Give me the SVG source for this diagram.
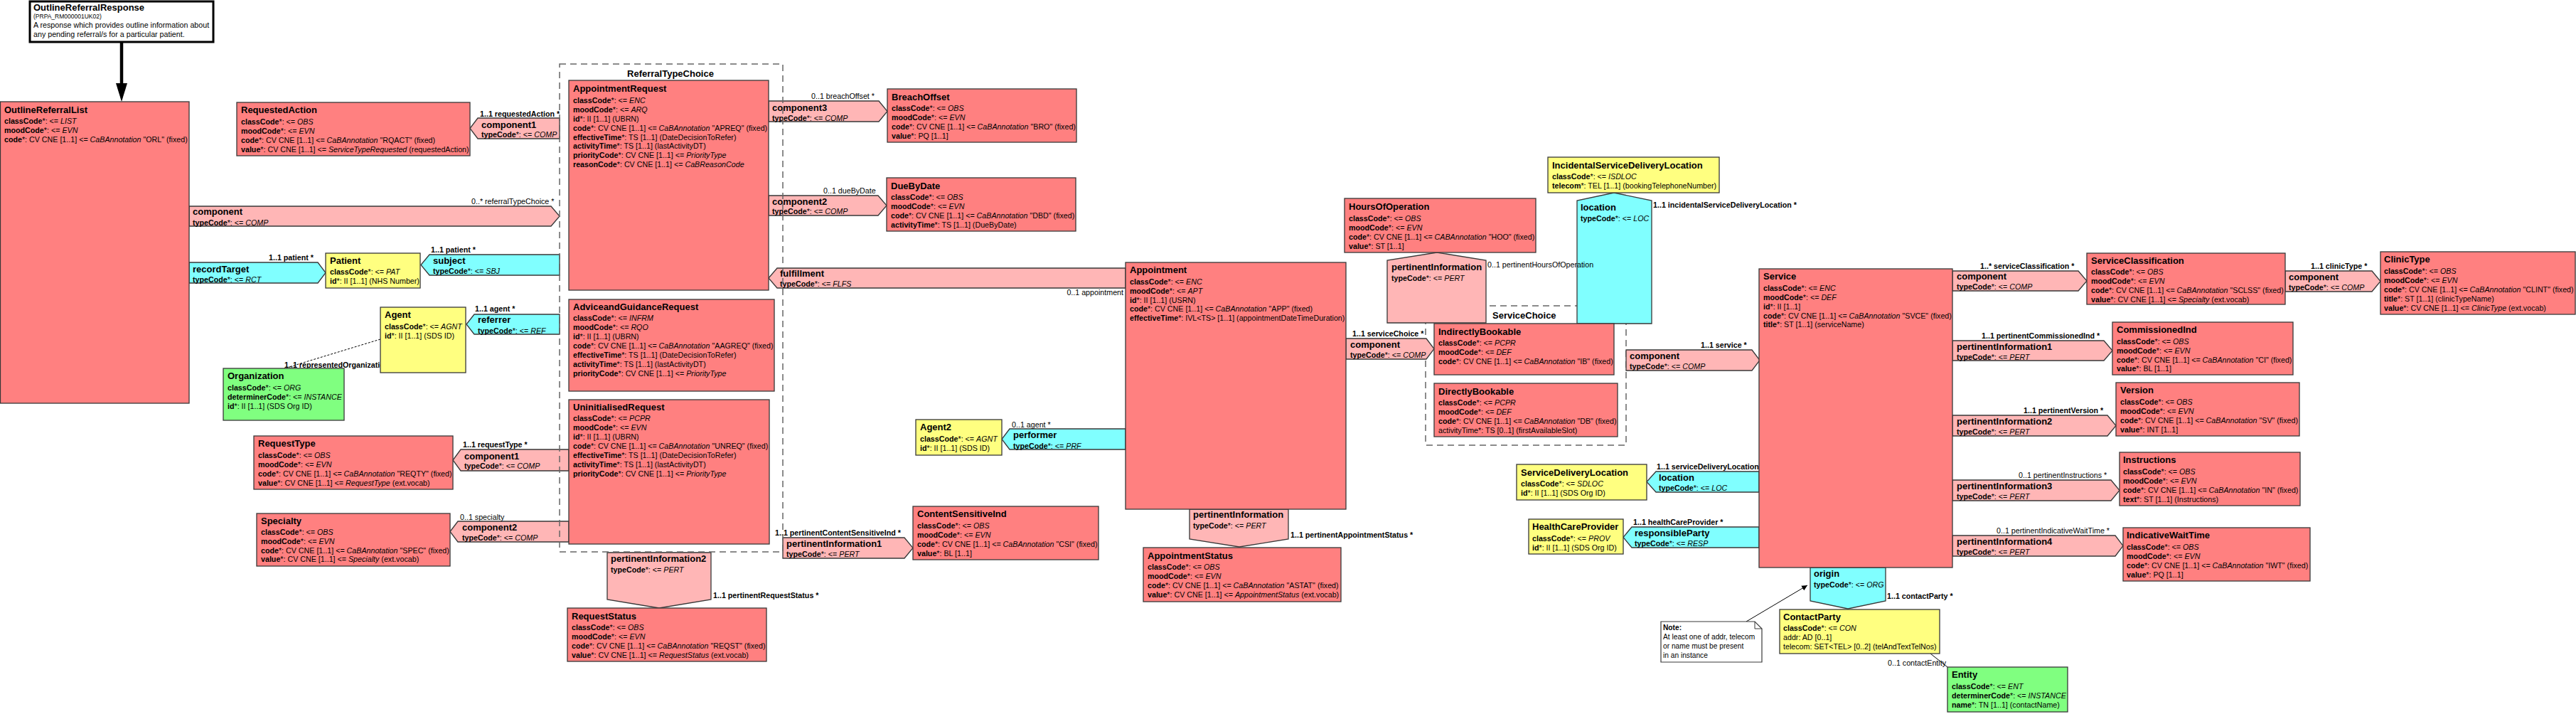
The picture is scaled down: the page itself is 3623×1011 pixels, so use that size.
<svg xmlns="http://www.w3.org/2000/svg" width="3623" height="1011" viewBox="0 0 3623 1011">
<defs>
<style>
text{font-family:"Liberation Sans",Arial,sans-serif;fill:#000}
.t{font-size:13px;font-weight:bold}
.a{font-size:10.7px}
.b{font-weight:bold}
.i{font-style:italic}
.box{stroke:#383838;stroke-width:1.3}
.act{fill:#ff8080}
.role{fill:#ffff80}
.ent{fill:#80ff80}
.ar{fill:#ffb6b6;stroke:#383838;stroke-width:1.3}
.pr{fill:#80ffff;stroke:#383838;stroke-width:1.3}
.ch{fill:none;stroke:#666;stroke-width:1.5;stroke-dasharray:9,6}
.n{font-size:10.2px}
</style>
<marker id="ah" viewBox="0 0 10 10" refX="10" refY="5" markerWidth="8" markerHeight="8" orient="auto"><path d="M0,0 L10,5 L0,10 z" fill="#000"/></marker>
</defs>
<rect width="3623" height="1011" fill="#fff"/>

<g id="ServiceChoice">
<rect class="ch" x="2005" y="430" width="282" height="196"/>
<text class="t" x="2099" y="447.5">ServiceChoice</text>
</g>

<g id="connectors">
<line x1="171" y1="60" x2="171" y2="120" stroke="#000" stroke-width="4.5"/>
<polygon points="163,117 179,117 171,143" fill="#000"/>
<polygon class="ar" points="266,290 775,290 787,304 775,318 266,318"/>
<text class="t" x="271" y="302">component</text>
<text class="a" x="271" y="316.5"><tspan class="b">typeCode</tspan>*: &lt;= <tspan class="i">COMP</tspan></text>
<text class="a" x="663" y="287">0..* referralTypeChoice  *</text>
<polygon class="ar" points="661,180.5 672,166 787,166 787,195 672,195"/>
<text class="t" x="677" y="179.5">component1</text>
<text class="a" x="677" y="193"><tspan class="b">typeCode</tspan>*: &lt;= <tspan class="i">COMP</tspan></text>
<text class="a b" x="675" y="164">1..1 requestedAction  *</text>
<polygon class="pr" points="266,369 447,369 458,383.5 447,398 266,398"/>
<text class="t" x="271" y="382.5">recordTarget</text>
<text class="a" x="271" y="396.5"><tspan class="b">typeCode</tspan>*: &lt;= <tspan class="i">RCT</tspan></text>
<text class="a b" x="378" y="366">1..1 patient  *</text>
<polygon class="pr" points="592,372.5 604,358 787,358 787,387 604,387"/>
<text class="t" x="609" y="370.5">subject</text>
<text class="a" x="609" y="385"><tspan class="b">typeCode</tspan>*: &lt;= <tspan class="i">SBJ</tspan></text>
<text class="a b" x="606" y="355">1..1 patient  *</text>
<polygon class="pr" points="656,456 667,442 787,442 787,470 667,470"/>
<text class="t" x="672" y="454">referrer</text>
<text class="a" x="672" y="468.5"><tspan class="b">typeCode</tspan>*: &lt;= <tspan class="i">REF</tspan></text>
<text class="a b" x="668" y="438">1..1 agent  *</text>
<line x1="535" y1="477" x2="400" y2="518" stroke="#000" stroke-width="1" stroke-dasharray="3,2"/>
<text class="a b" x="400" y="517">1..1 representedOrganization</text>
<polygon class="ar" points="637,647 648,632 800,632 800,662 648,662"/>
<text class="t" x="653" y="645.5">component1</text>
<text class="a" x="653" y="659"><tspan class="b">typeCode</tspan>*: &lt;= <tspan class="i">COMP</tspan></text>
<text class="a b" x="651" y="629">1..1 requestType  *</text>
<polygon class="ar" points="633,747.5 644,733 800,733 800,762 644,762"/>
<text class="t" x="650" y="746">component2</text>
<text class="a" x="650" y="760"><tspan class="b">typeCode</tspan>*: &lt;= <tspan class="i">COMP</tspan></text>
<text class="a" x="647" y="731">0..1 specialty</text>
<polygon class="ar" points="1081,142 1236,142 1248,156.5 1236,171 1081,171"/>
<text class="t" x="1086" y="155.5">component3</text>
<text class="a" x="1086" y="169.5"><tspan class="b">typeCode</tspan>*: &lt;= <tspan class="i">COMP</tspan></text>
<text class="a" x="1141" y="139">0..1 breachOffset  *</text>
<polygon class="ar" points="1081,275 1235,275 1247,289 1235,303 1081,303"/>
<text class="t" x="1086" y="287.5">component2</text>
<text class="a" x="1086" y="301"><tspan class="b">typeCode</tspan>*: &lt;= <tspan class="i">COMP</tspan></text>
<text class="a" x="1158" y="271.5">0..1 dueByDate</text>
<polygon class="ar" points="1081,391 1093,377 1583,377 1583,405 1093,405"/>
<text class="t" x="1097" y="388.5">fulfillment</text>
<text class="a" x="1097" y="403"><tspan class="b">typeCode</tspan>*: &lt;= <tspan class="i">FLFS</tspan></text>
<text class="a" x="1580" y="415" text-anchor="end">0..1 appointment</text>
<polygon class="ar" points="854,777 1000,777 1000,843 927,855 854,843"/>
<text class="t" x="859" y="789.5">pertinentInformation2</text>
<text class="a" x="859" y="805"><tspan class="b">typeCode</tspan>*: &lt;= <tspan class="i">PERT</tspan></text>
<text class="a b" x="1003" y="841">1..1 pertinentRequestStatus  *</text>
<polygon class="ar" points="1101,756 1272,756 1284,770.5 1272,785 1101,785"/>
<text class="t" x="1106" y="768.5">pertinentInformation1</text>
<text class="a" x="1106" y="783"><tspan class="b">typeCode</tspan>*: &lt;= <tspan class="i">PERT</tspan></text>
<text class="a b" x="1090" y="753">1..1 pertinentContentSensitiveInd  *</text>
<polygon class="pr" points="1409,617.5 1420,603 1583,603 1583,632 1420,632"/>
<text class="t" x="1425" y="616">performer</text>
<text class="a" x="1425" y="630.5"><tspan class="b">typeCode</tspan>*: &lt;= <tspan class="i">PRF</tspan></text>
<text class="a" x="1423" y="600.5">0..1 agent  *</text>
<polygon class="ar" points="1673,716 1812,716 1812,758 1743,769 1673,758"/>
<text class="t" x="1678" y="728">pertinentInformation</text>
<text class="a" x="1678" y="743"><tspan class="b">typeCode</tspan>*: &lt;= <tspan class="i">PERT</tspan></text>
<text class="a b" x="1815" y="756">1..1 pertinentAppointmentStatus  *</text>
<polygon class="ar" points="1893,476 2006,476 2017,490.5 2006,505 1893,505"/>
<text class="t" x="1899" y="489">component</text>
<text class="a" x="1899" y="503"><tspan class="b">typeCode</tspan>*: &lt;= <tspan class="i">COMP</tspan></text>
<text class="a b" x="1902" y="472.5">1..1 serviceChoice  *</text>
<polygon class="ar" points="2021,355 2090,366 2090,454 1951,454 1951,366"/>
<text class="t" x="1957" y="379.5">pertinentInformation</text>
<text class="a" x="1957" y="395"><tspan class="b">typeCode</tspan>*: &lt;= <tspan class="i">PERT</tspan></text>
<polygon class="pr" points="2270,271 2323,282 2323,455 2218,455 2218,282"/>
<text class="t" x="2223" y="295.5">location</text>
<text class="a" x="2223" y="311"><tspan class="b">typeCode</tspan>*: &lt;= <tspan class="i">LOC</tspan></text>
<text class="a b" x="2325" y="292">1..1 incidentalServiceDeliveryLocation  *</text>
<text class="a" x="2092" y="376">0..1 pertinentHoursOfOperation</text>
<polygon class="ar" points="2287,492 2464,492 2475,506.5 2464,521 2287,521"/>
<text class="t" x="2292" y="504.5">component</text>
<text class="a" x="2292" y="519"><tspan class="b">typeCode</tspan>*: &lt;= <tspan class="i">COMP</tspan></text>
<text class="a b" x="2392" y="489">1..1 service  *</text>
<polygon class="pr" points="2316,677.5 2329,663 2474,663 2474,692 2329,692"/>
<text class="t" x="2333" y="675.5">location</text>
<text class="a" x="2333" y="690"><tspan class="b">typeCode</tspan>*: &lt;= <tspan class="i">LOC</tspan></text>
<text class="a b" x="2330" y="660">1..1 serviceDeliveryLocation</text>
<polygon class="pr" points="2283,755.5 2295,741 2474,741 2474,770 2295,770"/>
<text class="t" x="2299" y="753.5">responsibleParty</text>
<text class="a" x="2299" y="768"><tspan class="b">typeCode</tspan>*: &lt;= <tspan class="i">RESP</tspan></text>
<text class="a b" x="2297" y="738">1..1 healthCareProvider  *</text>
<polygon class="pr" points="2546,798 2652,798 2652,845 2599,856 2546,845"/>
<text class="t" x="2551" y="810.5">origin</text>
<text class="a" x="2551" y="826"><tspan class="b">typeCode</tspan>*: &lt;= <tspan class="i">ORG</tspan></text>
<text class="a b" x="2654" y="842">1..1 contactParty  *</text>
<text class="a" x="2655" y="936">0..1 contactEntity</text>
<line x1="2715" y1="919" x2="2739" y2="938" stroke="#000" stroke-width="1"/>
<line x1="2456" y1="874" x2="2542" y2="823" stroke="#000" stroke-width="1" marker-end="url(#ah)"/>
<polygon class="ar" points="2746,381 2923,381 2935,395 2923,409 2746,409"/>
<text class="t" x="2752" y="392.5">component</text>
<text class="a" x="2752" y="407"><tspan class="b">typeCode</tspan>*: &lt;= <tspan class="i">COMP</tspan></text>
<text class="a b" x="2785" y="378">1..* serviceClassification  *</text>
<polygon class="ar" points="3214,381 3336,381 3348,395.5 3336,410 3214,410"/>
<text class="t" x="3219" y="393.5">component</text>
<text class="a" x="3219" y="407.5"><tspan class="b">typeCode</tspan>*: &lt;= <tspan class="i">COMP</tspan></text>
<text class="a b" x="3250" y="378">1..1 clinicType  *</text>
<polygon class="ar" points="2746,479 2959,479 2971,493 2959,507 2746,507"/>
<text class="t" x="2752" y="491.5">pertinentInformation1</text>
<text class="a" x="2752" y="505.5"><tspan class="b">typeCode</tspan>*: &lt;= <tspan class="i">PERT</tspan></text>
<text class="a b" x="2787" y="476">1..1 pertinentCommissionedInd  *</text>
<polygon class="ar" points="2746,584 2964,584 2976,598.5 2964,613 2746,613"/>
<text class="t" x="2752" y="596.5">pertinentInformation2</text>
<text class="a" x="2752" y="611"><tspan class="b">typeCode</tspan>*: &lt;= <tspan class="i">PERT</tspan></text>
<text class="a b" x="2846" y="581">1..1 pertinentVersion  *</text>
<polygon class="ar" points="2746,675 2969,675 2981,689.5 2969,704 2746,704"/>
<text class="t" x="2752" y="687.5">pertinentInformation3</text>
<text class="a" x="2752" y="702"><tspan class="b">typeCode</tspan>*: &lt;= <tspan class="i">PERT</tspan></text>
<text class="a" x="2839" y="672">0..1 pertinentInstructions  *</text>
<polygon class="ar" points="2746,753 2975,753 2986,767.5 2975,782 2746,782"/>
<text class="t" x="2752" y="765.5">pertinentInformation4</text>
<text class="a" x="2752" y="780"><tspan class="b">typeCode</tspan>*: &lt;= <tspan class="i">PERT</tspan></text>
<text class="a" x="2808" y="750">0..1 pertinentIndicativeWaitTime  *</text>
</g>

<g id="ReferralTypeChoice">
<rect class="ch" x="787" y="90" width="314" height="686"/>
<text class="t" x="943" y="108" text-anchor="middle">ReferralTypeChoice</text>
</g>

<g id="OutlineReferralResponse">
<rect x="42" y="2" width="258" height="57" fill="#fff" stroke="#000" stroke-width="3"/>
<text class="t" x="47" y="14.5">OutlineReferralResponse</text>
<text x="47" y="25.5" font-family="'Liberation Mono',monospace" font-size="8.5" fill="#666">(PRPA_RM000001UK02)</text>
<text class="a" x="47" y="39">A response which provides outline information about</text>
<text class="a" x="47" y="52">any pending referral/s for a particular patient.</text>
</g>

<g id="OutlineReferralList">
<rect class="box act" x="0.5" y="143" width="265.5" height="424"/>
<text class="t" x="6" y="158.5">OutlineReferralList</text>
<text class="a" x="6" y="174"><tspan class="b">classCode</tspan>*: &lt;= <tspan class="i">LIST</tspan></text>
<text class="a" x="6" y="187"><tspan class="b">moodCode</tspan>*: &lt;= <tspan class="i">EVN</tspan></text>
<text class="a" x="6" y="200"><tspan class="b">code</tspan>*: CV CNE [1..1] &lt;= <tspan class="i">CaBAnnotation</tspan> "ORL" (fixed)</text>
</g>

<g id="RequestedAction">
<rect class="box act" x="333" y="144" width="328" height="75"/>
<text class="t" x="339" y="159">RequestedAction</text>
<text class="a" x="339" y="175"><tspan class="b">classCode</tspan>*: &lt;= <tspan class="i">OBS</tspan></text>
<text class="a" x="339" y="188"><tspan class="b">moodCode</tspan>*: &lt;= <tspan class="i">EVN</tspan></text>
<text class="a" x="339" y="201"><tspan class="b">code</tspan>*: CV CNE [1..1] &lt;= <tspan class="i">CaBAnnotation</tspan> "RQACT" (fixed)</text>
<text class="a" x="339" y="214"><tspan class="b">value</tspan>*: CV CNE [1..1] &lt;= <tspan class="i">ServiceTypeRequested</tspan> (requestedAction)</text>
</g>

<g id="Patient">
<rect class="box role" x="458" y="356" width="133" height="49"/>
<text class="t" x="464" y="371">Patient</text>
<text class="a" x="464" y="386"><tspan class="b">classCode</tspan>*: &lt;= <tspan class="i">PAT</tspan></text>
<text class="a" x="464" y="399"><tspan class="b">id</tspan>*: II [1..1] (NHS Number)</text>
</g>

<g id="Agent">
<rect class="box role" x="535" y="432" width="120" height="92"/>
<text class="t" x="541" y="447">Agent</text>
<text class="a" x="541" y="463"><tspan class="b">classCode</tspan>*: &lt;= <tspan class="i">AGNT</tspan></text>
<text class="a" x="541" y="476"><tspan class="b">id</tspan>*: II [1..1] (SDS ID)</text>
</g>

<g id="Organization">
<rect class="box ent" x="314" y="518" width="170" height="73"/>
<text class="t" x="320" y="533">Organization</text>
<text class="a" x="320" y="549"><tspan class="b">classCode</tspan>*: &lt;= <tspan class="i">ORG</tspan></text>
<text class="a" x="320" y="562"><tspan class="b">determinerCode</tspan>*: &lt;= <tspan class="i">INSTANCE</tspan></text>
<text class="a" x="320" y="575"><tspan class="b">id</tspan>*: II [1..1] (SDS Org ID)</text>
</g>

<g id="RequestType">
<rect class="box act" x="357" y="613" width="280" height="75"/>
<text class="t" x="363" y="628">RequestType</text>
<text class="a" x="363" y="644"><tspan class="b">classCode</tspan>*: &lt;= <tspan class="i">OBS</tspan></text>
<text class="a" x="363" y="657"><tspan class="b">moodCode</tspan>*: &lt;= <tspan class="i">EVN</tspan></text>
<text class="a" x="363" y="670"><tspan class="b">code</tspan>*: CV CNE [1..1] &lt;= <tspan class="i">CaBAnnotation</tspan> "REQTY" (fixed)</text>
<text class="a" x="363" y="683"><tspan class="b">value</tspan>*: CV CNE [1..1] &lt;= <tspan class="i">RequestType</tspan> (ext.vocab)</text>
</g>

<g id="Specialty">
<rect class="box act" x="361" y="722" width="272" height="74"/>
<text class="t" x="367" y="737">Specialty</text>
<text class="a" x="367" y="752"><tspan class="b">classCode</tspan>*: &lt;= <tspan class="i">OBS</tspan></text>
<text class="a" x="367" y="765"><tspan class="b">moodCode</tspan>*: &lt;= <tspan class="i">EVN</tspan></text>
<text class="a" x="367" y="777.5"><tspan class="b">code</tspan>*: CV CNE [1..1] &lt;= <tspan class="i">CaBAnnotation</tspan> "SPEC" (fixed)</text>
<text class="a" x="367" y="790"><tspan class="b">value</tspan>*: CV CNE [1..1] &lt;= <tspan class="i">Specialty</tspan> (ext.vocab)</text>
</g>

<g id="AppointmentRequest">
<rect class="box act" x="800" y="113" width="281" height="295"/>
<text class="t" x="806" y="128.5">AppointmentRequest</text>
<text class="a" x="806" y="145"><tspan class="b">classCode</tspan>*: &lt;= <tspan class="i">ENC</tspan></text>
<text class="a" x="806" y="157.5"><tspan class="b">moodCode</tspan>*: &lt;= <tspan class="i">ARQ</tspan></text>
<text class="a" x="806" y="170.5"><tspan class="b">id</tspan>*: II [1..1] (UBRN)</text>
<text class="a" x="806" y="183.5"><tspan class="b">code</tspan>*: CV CNE [1..1] &lt;= <tspan class="i">CaBAnnotation</tspan> "APREQ" (fixed)</text>
<text class="a" x="806" y="196.5"><tspan class="b">effectiveTime</tspan>*: TS [1..1] (DateDecisionToRefer)</text>
<text class="a" x="806" y="209"><tspan class="b">activityTime</tspan>*: TS [1..1] (lastActivityDT)</text>
<text class="a" x="806" y="221.5"><tspan class="b">priorityCode</tspan>*: CV CNE [1..1] &lt;= <tspan class="i">PriorityType</tspan></text>
<text class="a" x="806" y="234.5"><tspan class="b">reasonCode</tspan>*: CV CNE [1..1] &lt;= <tspan class="i">CaBReasonCode</tspan></text>
</g>

<g id="AdviceandGuidanceRequest">
<rect class="box act" x="800" y="421" width="289" height="129"/>
<text class="t" x="806" y="435.5">AdviceandGuidanceRequest</text>
<text class="a" x="806" y="451"><tspan class="b">classCode</tspan>*: &lt;= <tspan class="i">INFRM</tspan></text>
<text class="a" x="806" y="464"><tspan class="b">moodCode</tspan>*: &lt;= <tspan class="i">RQO</tspan></text>
<text class="a" x="806" y="477"><tspan class="b">id</tspan>*: II [1..1] (UBRN)</text>
<text class="a" x="806" y="490"><tspan class="b">code</tspan>*: CV CNE [1..1] &lt;= <tspan class="i">CaBAnnotation</tspan> "AAGREQ" (fixed)</text>
<text class="a" x="806" y="503"><tspan class="b">effectiveTime</tspan>*: TS [1..1] (DateDecisionToRefer)</text>
<text class="a" x="806" y="515.5"><tspan class="b">activityTime</tspan>*: TS [1..1] (lastActivityDT)</text>
<text class="a" x="806" y="528.5"><tspan class="b">priorityCode</tspan>*: CV CNE [1..1] &lt;= <tspan class="i">PriorityType</tspan></text>
</g>

<g id="UninitialisedRequest">
<rect class="box act" x="800" y="562" width="282" height="203"/>
<text class="t" x="806" y="576.5">UninitialisedRequest</text>
<text class="a" x="806" y="592"><tspan class="b">classCode</tspan>*: &lt;= <tspan class="i">PCPR</tspan></text>
<text class="a" x="806" y="605"><tspan class="b">moodCode</tspan>*: &lt;= <tspan class="i">EVN</tspan></text>
<text class="a" x="806" y="618"><tspan class="b">id</tspan>*: II [1..1] (UBRN)</text>
<text class="a" x="806" y="631"><tspan class="b">code</tspan>*: CV CNE [1..1] &lt;= <tspan class="i">CaBAnnotation</tspan> "UNREQ" (fixed)</text>
<text class="a" x="806" y="644"><tspan class="b">effectiveTime</tspan>*: TS [1..1] (DateDecisionToRefer)</text>
<text class="a" x="806" y="657"><tspan class="b">activityTime</tspan>*: TS [1..1] (lastActivityDT)</text>
<text class="a" x="806" y="670"><tspan class="b">priorityCode</tspan>*: CV CNE [1..1] &lt;= <tspan class="i">PriorityType</tspan></text>
</g>

<g id="RequestStatus">
<rect class="box act" x="798" y="855" width="280" height="75"/>
<text class="t" x="804" y="870.5">RequestStatus</text>
<text class="a" x="804" y="886"><tspan class="b">classCode</tspan>*: &lt;= <tspan class="i">OBS</tspan></text>
<text class="a" x="804" y="899"><tspan class="b">moodCode</tspan>*: &lt;= <tspan class="i">EVN</tspan></text>
<text class="a" x="804" y="912"><tspan class="b">code</tspan>*: CV CNE [1..1] &lt;= <tspan class="i">CaBAnnotation</tspan> "REQST" (fixed)</text>
<text class="a" x="804" y="925"><tspan class="b">value</tspan>*: CV CNE [1..1] &lt;= <tspan class="i">RequestStatus</tspan> (ext.vocab)</text>
</g>

<g id="BreachOffset">
<rect class="box act" x="1248" y="125" width="266" height="75"/>
<text class="t" x="1254" y="140.5">BreachOffset</text>
<text class="a" x="1254" y="156"><tspan class="b">classCode</tspan>*: &lt;= <tspan class="i">OBS</tspan></text>
<text class="a" x="1254" y="169"><tspan class="b">moodCode</tspan>*: &lt;= <tspan class="i">EVN</tspan></text>
<text class="a" x="1254" y="182"><tspan class="b">code</tspan>*: CV CNE [1..1] &lt;= <tspan class="i">CaBAnnotation</tspan> "BRO" (fixed)</text>
<text class="a" x="1254" y="195"><tspan class="b">value</tspan>*: PQ [1..1]</text>
</g>

<g id="DueByDate">
<rect class="box act" x="1247" y="250" width="266" height="75"/>
<text class="t" x="1253" y="265.5">DueByDate</text>
<text class="a" x="1253" y="281"><tspan class="b">classCode</tspan>*: &lt;= <tspan class="i">OBS</tspan></text>
<text class="a" x="1253" y="294"><tspan class="b">moodCode</tspan>*: &lt;= <tspan class="i">EVN</tspan></text>
<text class="a" x="1253" y="307"><tspan class="b">code</tspan>*: CV CNE [1..1] &lt;= <tspan class="i">CaBAnnotation</tspan> "DBD" (fixed)</text>
<text class="a" x="1253" y="320"><tspan class="b">activityTime</tspan>*: TS [1..1] (DueByDate)</text>
</g>

<g id="Agent2">
<rect class="box role" x="1288" y="590" width="121" height="50"/>
<text class="t" x="1294" y="605">Agent2</text>
<text class="a" x="1294" y="621"><tspan class="b">classCode</tspan>*: &lt;= <tspan class="i">AGNT</tspan></text>
<text class="a" x="1294" y="634"><tspan class="b">id</tspan>*: II [1..1] (SDS ID)</text>
</g>

<g id="ContentSensitiveInd">
<rect class="box act" x="1284" y="712" width="261" height="75"/>
<text class="t" x="1290" y="727">ContentSensitiveInd</text>
<text class="a" x="1290" y="743"><tspan class="b">classCode</tspan>*: &lt;= <tspan class="i">OBS</tspan></text>
<text class="a" x="1290" y="756"><tspan class="b">moodCode</tspan>*: &lt;= <tspan class="i">EVN</tspan></text>
<text class="a" x="1290" y="769"><tspan class="b">code</tspan>*: CV CNE [1..1] &lt;= <tspan class="i">CaBAnnotation</tspan> "CSI" (fixed)</text>
<text class="a" x="1290" y="782"><tspan class="b">value</tspan>*: BL [1..1]</text>
</g>

<g id="Appointment">
<rect class="box act" x="1583" y="369" width="310" height="347"/>
<text class="t" x="1589" y="384">Appointment</text>
<text class="a" x="1589" y="399.5"><tspan class="b">classCode</tspan>*: &lt;= <tspan class="i">ENC</tspan></text>
<text class="a" x="1589" y="412.5"><tspan class="b">moodCode</tspan>*: &lt;= <tspan class="i">APT</tspan></text>
<text class="a" x="1589" y="425.5"><tspan class="b">id</tspan>*: II [1..1] (USRN)</text>
<text class="a" x="1589" y="438"><tspan class="b">code</tspan>*: CV CNE [1..1] &lt;= <tspan class="i">CaBAnnotation</tspan> "APP" (fixed)</text>
<text class="a" x="1589" y="451"><tspan class="b">effectiveTime</tspan>*: IVL&lt;TS&gt; [1..1] (appointmentDateTimeDuration)</text>
</g>

<g id="AppointmentStatus">
<rect class="box act" x="1608" y="770" width="278" height="76"/>
<text class="t" x="1614" y="785.5">AppointmentStatus</text>
<text class="a" x="1614" y="801"><tspan class="b">classCode</tspan>*: &lt;= <tspan class="i">OBS</tspan></text>
<text class="a" x="1614" y="813.5"><tspan class="b">moodCode</tspan>*: &lt;= <tspan class="i">EVN</tspan></text>
<text class="a" x="1614" y="826.5"><tspan class="b">code</tspan>*: CV CNE [1..1] &lt;= <tspan class="i">CaBAnnotation</tspan> "ASTAT" (fixed)</text>
<text class="a" x="1614" y="839.5"><tspan class="b">value</tspan>*: CV CNE [1..1] &lt;= <tspan class="i">AppointmentStatus</tspan> (ext.vocab)</text>
</g>

<g id="HoursOfOperation">
<rect class="box act" x="1891" y="279" width="269" height="76"/>
<text class="t" x="1897" y="295">HoursOfOperation</text>
<text class="a" x="1897" y="311"><tspan class="b">classCode</tspan>*: &lt;= <tspan class="i">OBS</tspan></text>
<text class="a" x="1897" y="323.5"><tspan class="b">moodCode</tspan>*: &lt;= <tspan class="i">EVN</tspan></text>
<text class="a" x="1897" y="336.5"><tspan class="b">code</tspan>*: CV CNE [1..1] &lt;= <tspan class="i">CABAnnotation</tspan> "HOO" (fixed)</text>
<text class="a" x="1897" y="349.5"><tspan class="b">value</tspan>*: ST [1..1]</text>
</g>

<g id="IncidentalServiceDeliveryLocation">
<rect class="box role" x="2177" y="221" width="241" height="50"/>
<text class="t" x="2183" y="236.5">IncidentalServiceDeliveryLocation</text>
<text class="a" x="2183" y="252"><tspan class="b">classCode</tspan>*: &lt;= <tspan class="i">ISDLOC</tspan></text>
<text class="a" x="2183" y="265"><tspan class="b">telecom</tspan>*: TEL [1..1] (bookingTelephoneNumber)</text>
</g>

<g id="IndirectlyBookable">
<rect class="box act" x="2017" y="455" width="253" height="72"/>
<text class="t" x="2023" y="470.5">IndirectlyBookable</text>
<text class="a" x="2023" y="486"><tspan class="b">classCode</tspan>*: &lt;= <tspan class="i">PCPR</tspan></text>
<text class="a" x="2023" y="498.5"><tspan class="b">moodCode</tspan>*: &lt;= <tspan class="i">DEF</tspan></text>
<text class="a" x="2023" y="511.5"><tspan class="b">code</tspan>*: CV CNE [1..1] &lt;= <tspan class="i">CaBAnnotation</tspan> "IB" (fixed)</text>
</g>

<g id="DirectlyBookable">
<rect class="box act" x="2017" y="539" width="258" height="75"/>
<text class="t" x="2023" y="554.5">DirectlyBookable</text>
<text class="a" x="2023" y="570"><tspan class="b">classCode</tspan>*: &lt;= <tspan class="i">PCPR</tspan></text>
<text class="a" x="2023" y="583"><tspan class="b">moodCode</tspan>*: &lt;= <tspan class="i">DEF</tspan></text>
<text class="a" x="2023" y="596"><tspan class="b">code</tspan>*: CV CNE [1..1] &lt;= <tspan class="i">CaBAnnotation</tspan> "DB" (fixed)</text>
<text class="a" x="2023" y="608.5">activityTime*: TS [0..1] (firstAvailableSlot)</text>
</g>

<g id="ServiceDeliveryLocation">
<rect class="box role" x="2133" y="653" width="183" height="50"/>
<text class="t" x="2139" y="668.5">ServiceDeliveryLocation</text>
<text class="a" x="2139" y="684"><tspan class="b">classCode</tspan>*: &lt;= <tspan class="i">SDLOC</tspan></text>
<text class="a" x="2139" y="697"><tspan class="b">id</tspan>*: II [1..1] (SDS Org ID)</text>
</g>

<g id="HealthCareProvider">
<rect class="box role" x="2150" y="730" width="133" height="49"/>
<text class="t" x="2155" y="744.5">HealthCareProvider</text>
<text class="a" x="2155" y="761"><tspan class="b">classCode</tspan>*: &lt;= <tspan class="i">PROV</tspan></text>
<text class="a" x="2155" y="773.5"><tspan class="b">id</tspan>*: II [1..1] (SDS Org ID)</text>
</g>

<g id="Service">
<rect class="box act" x="2474" y="378" width="272" height="420"/>
<text class="t" x="2480" y="393">Service</text>
<text class="a" x="2480" y="408.5"><tspan class="b">classCode</tspan>*: &lt;= <tspan class="i">ENC</tspan></text>
<text class="a" x="2480" y="421.5"><tspan class="b">moodCode</tspan>*: &lt;= <tspan class="i">DEF</tspan></text>
<text class="a" x="2480" y="434.5"><tspan class="b">id</tspan>*: II [1..1]</text>
<text class="a" x="2480" y="447.5"><tspan class="b">code</tspan>*: CV CNE [1..1] &lt;= <tspan class="i">CaBAnnotation</tspan> "SVCE" (fixed)</text>
<text class="a" x="2480" y="460"><tspan class="b">title</tspan>*: ST [1..1] (serviceName)</text>
</g>

<g id="Note">
<path d="M2336,874 H2468 L2478,884 V931 H2336 Z" fill="#fff" stroke="#383838" stroke-width="1.2"/>
<path d="M2468,874 V884 H2478" fill="none" stroke="#383838" stroke-width="1"/>
<text class="n b" x="2339" y="886">Note:</text>
<text class="n" x="2339" y="899">At least one of addr, telecom</text>
<text class="n" x="2339" y="912">or name must be present</text>
<text class="n" x="2339" y="925">in an instance</text>
</g>

<g id="ContactParty">
<rect class="box role" x="2503" y="857" width="225" height="62"/>
<text class="t" x="2508" y="871.5">ContactParty</text>
<text class="a" x="2508" y="887"><tspan class="b">classCode</tspan>*: &lt;= <tspan class="i">CON</tspan></text>
<text class="a" x="2508" y="900">addr: AD [0..1]</text>
<text class="a" x="2508" y="913">telecom: SET&lt;TEL&gt; [0..2] (telAndTextTelNos)</text>
</g>

<g id="Entity">
<rect class="box ent" x="2739" y="938" width="169" height="63"/>
<text class="t" x="2745" y="953">Entity</text>
<text class="a" x="2745" y="969"><tspan class="b">classCode</tspan>*: &lt;= <tspan class="i">ENT</tspan></text>
<text class="a" x="2745" y="982"><tspan class="b">determinerCode</tspan>*: &lt;= <tspan class="i">INSTANCE</tspan></text>
<text class="a" x="2745" y="995"><tspan class="b">name</tspan>*: TN [1..1] (contactName)</text>
</g>

<g id="ServiceClassification">
<rect class="box act" x="2935" y="356" width="279" height="72"/>
<text class="t" x="2941" y="370.5">ServiceClassification</text>
<text class="a" x="2941" y="386"><tspan class="b">classCode</tspan>*: &lt;= <tspan class="i">OBS</tspan></text>
<text class="a" x="2941" y="399"><tspan class="b">moodCode</tspan>*: &lt;= <tspan class="i">EVN</tspan></text>
<text class="a" x="2941" y="412"><tspan class="b">code</tspan>*: CV CNE [1..1] &lt;= <tspan class="i">CaBAnnotation</tspan> "SCLSS" (fixed)</text>
<text class="a" x="2941" y="425"><tspan class="b">value</tspan>*: CV CNE [1..1] &lt;= <tspan class="i">Specialty</tspan> (ext.vocab)</text>
</g>

<g id="ClinicType">
<rect class="box act" x="3348" y="354" width="274" height="88"/>
<text class="t" x="3353" y="369">ClinicType</text>
<text class="a" x="3353" y="385"><tspan class="b">classCode</tspan>*: &lt;= <tspan class="i">OBS</tspan></text>
<text class="a" x="3353" y="398"><tspan class="b">moodCode</tspan>*: &lt;= <tspan class="i">EVN</tspan></text>
<text class="a" x="3353" y="411"><tspan class="b">code</tspan>*: CV CNE [1..1] &lt;= <tspan class="i">CaBAnnotation</tspan> "CLINT" (fixed)</text>
<text class="a" x="3353" y="423.5"><tspan class="b">title</tspan>*: ST [1..1] (clinicTypeName)</text>
<text class="a" x="3353" y="436.5"><tspan class="b">value</tspan>*: CV CNE [1..1] &lt;= <tspan class="i">ClinicType</tspan> (ext.vocab)</text>
</g>

<g id="CommissionedInd">
<rect class="box act" x="2971" y="453" width="254" height="74"/>
<text class="t" x="2977" y="468">CommissionedInd</text>
<text class="a" x="2977" y="484"><tspan class="b">classCode</tspan>*: &lt;= <tspan class="i">OBS</tspan></text>
<text class="a" x="2977" y="497"><tspan class="b">moodCode</tspan>*: &lt;= <tspan class="i">EVN</tspan></text>
<text class="a" x="2977" y="509.5"><tspan class="b">code</tspan>*: CV CNE [1..1] &lt;= <tspan class="i">CaBAnnotation</tspan> "CI" (fixed)</text>
<text class="a" x="2977" y="522"><tspan class="b">value</tspan>*: BL [1..1]</text>
</g>

<g id="Version">
<rect class="box act" x="2976" y="538" width="258" height="75"/>
<text class="t" x="2982" y="553">Version</text>
<text class="a" x="2982" y="569"><tspan class="b">classCode</tspan>*: &lt;= <tspan class="i">OBS</tspan></text>
<text class="a" x="2982" y="582"><tspan class="b">moodCode</tspan>*: &lt;= <tspan class="i">EVN</tspan></text>
<text class="a" x="2982" y="594.5"><tspan class="b">code</tspan>*: CV CNE [1..1] &lt;= <tspan class="i">CaBAnnotation</tspan> "SV" (fixed)</text>
<text class="a" x="2982" y="607.5"><tspan class="b">value</tspan>*: INT [1..1]</text>
</g>

<g id="Instructions">
<rect class="box act" x="2981" y="636" width="254" height="75"/>
<text class="t" x="2986" y="651">Instructions</text>
<text class="a" x="2986" y="667"><tspan class="b">classCode</tspan>*: &lt;= <tspan class="i">OBS</tspan></text>
<text class="a" x="2986" y="679.5"><tspan class="b">moodCode</tspan>*: &lt;= <tspan class="i">EVN</tspan></text>
<text class="a" x="2986" y="692.5"><tspan class="b">code</tspan>*: CV CNE [1..1] &lt;= <tspan class="i">CaBAnnotation</tspan> "IN" (fixed)</text>
<text class="a" x="2986" y="705.5"><tspan class="b">text</tspan>*: ST [1..1] (Instructions)</text>
</g>

<g id="IndicativeWaitTime">
<rect class="box act" x="2986" y="742" width="263" height="75"/>
<text class="t" x="2991" y="757">IndicativeWaitTime</text>
<text class="a" x="2991" y="773"><tspan class="b">classCode</tspan>*: &lt;= <tspan class="i">OBS</tspan></text>
<text class="a" x="2991" y="785.5"><tspan class="b">moodCode</tspan>*: &lt;= <tspan class="i">EVN</tspan></text>
<text class="a" x="2991" y="798.5"><tspan class="b">code</tspan>*: CV CNE [1..1] &lt;= <tspan class="i">CaBAnnotation</tspan> "IWT" (fixed)</text>
<text class="a" x="2991" y="811.5"><tspan class="b">value</tspan>*: PQ [1..1]</text>
</g>
</svg>
